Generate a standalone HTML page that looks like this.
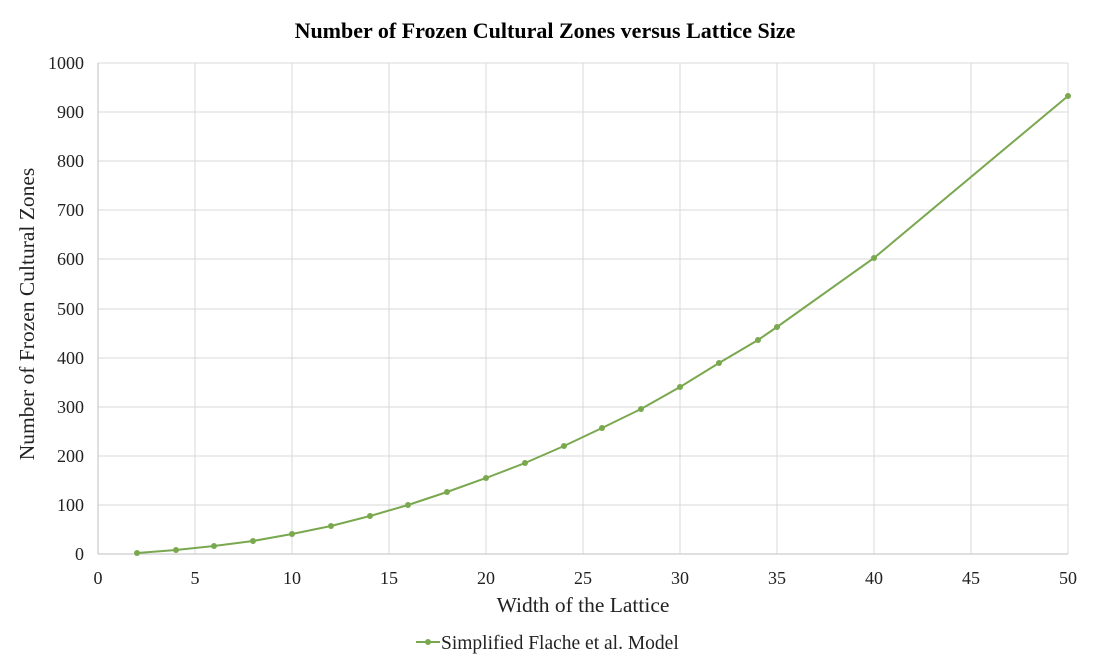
<!DOCTYPE html>
<html><head><meta charset="utf-8"><style>
html,body{margin:0;padding:0;background:#fff;}
svg{display:block;font-family:"Liberation Serif",serif;}
</style></head><body>
<svg width="1094" height="656" viewBox="0 0 1094 656" xmlns="http://www.w3.org/2000/svg">
<rect width="1094" height="656" fill="#fff"/>
<text x="545" y="38" text-anchor="middle" font-size="22" font-weight="bold" fill="#000">Number of Frozen Cultural Zones versus Lattice Size</text>
<g stroke="#d9d9d9" stroke-width="1">
<line x1="98" y1="63" x2="1068" y2="63"/><line x1="98" y1="112" x2="1068" y2="112"/>
<line x1="98" y1="161" x2="1068" y2="161"/><line x1="98" y1="210" x2="1068" y2="210"/>
<line x1="98" y1="259" x2="1068" y2="259"/><line x1="98" y1="309" x2="1068" y2="309"/>
<line x1="98" y1="358" x2="1068" y2="358"/><line x1="98" y1="407" x2="1068" y2="407"/>
<line x1="98" y1="456" x2="1068" y2="456"/><line x1="98" y1="505" x2="1068" y2="505"/>
<line x1="195" y1="63" x2="195" y2="554"/><line x1="292" y1="63" x2="292" y2="554"/>
<line x1="389" y1="63" x2="389" y2="554"/><line x1="486" y1="63" x2="486" y2="554"/>
<line x1="583" y1="63" x2="583" y2="554"/><line x1="680" y1="63" x2="680" y2="554"/>
<line x1="777" y1="63" x2="777" y2="554"/><line x1="874" y1="63" x2="874" y2="554"/>
<line x1="971" y1="63" x2="971" y2="554"/><line x1="1068" y1="63" x2="1068" y2="554"/>
</g>
<line x1="98" y1="554" x2="1068" y2="554" stroke="#bfbfbf"/>
<line x1="98" y1="63" x2="98" y2="554" stroke="#bfbfbf"/>
<g font-size="18" fill="#222" text-anchor="end">
<text x="84" y="560">0</text><text x="84" y="511">100</text><text x="84" y="462">200</text>
<text x="84" y="413">300</text><text x="84" y="364">400</text><text x="84" y="315">500</text>
<text x="84" y="265">600</text><text x="84" y="216">700</text><text x="84" y="167">800</text>
<text x="84" y="118">900</text><text x="84" y="69">1000</text>
</g>
<g font-size="18" fill="#222" text-anchor="middle">
<text x="98" y="584">0</text><text x="195" y="584">5</text><text x="292" y="584">10</text>
<text x="389" y="584">15</text><text x="486" y="584">20</text><text x="583" y="584">25</text>
<text x="680" y="584">30</text><text x="777" y="584">35</text><text x="874" y="584">40</text>
<text x="971" y="584">45</text><text x="1068" y="584">50</text>
</g>
<text x="583" y="612" text-anchor="middle" font-size="21.5" fill="#222">Width of the Lattice</text>
<text transform="translate(34,314) rotate(-90)" text-anchor="middle" font-size="21.5" fill="#222">Number of Frozen Cultural Zones</text>
<polyline fill="none" stroke="#7aa84f" stroke-width="2" points="137,553 176,550 214,546 253,541 292,534 331,526 370,516 408,505 447,492 486,478 525,463 564,446 602,428 641,409 680,387 719,363 758,340 777,327 874,258 1068,96"/>
<g fill="#7aa84f">
<circle cx="137" cy="553" r="3"/><circle cx="176" cy="550" r="3"/><circle cx="214" cy="546" r="3"/>
<circle cx="253" cy="541" r="3"/><circle cx="292" cy="534" r="3"/><circle cx="331" cy="526" r="3"/>
<circle cx="370" cy="516" r="3"/><circle cx="408" cy="505" r="3"/><circle cx="447" cy="492" r="3"/>
<circle cx="486" cy="478" r="3"/><circle cx="525" cy="463" r="3"/><circle cx="564" cy="446" r="3"/>
<circle cx="602" cy="428" r="3"/><circle cx="641" cy="409" r="3"/><circle cx="680" cy="387" r="3"/>
<circle cx="719" cy="363" r="3"/><circle cx="758" cy="340" r="3"/><circle cx="777" cy="327" r="3"/>
<circle cx="874" cy="258" r="3"/><circle cx="1068" cy="96" r="3"/>
</g>
<line x1="416" y1="642" x2="440" y2="642" stroke="#7aa84f" stroke-width="2"/>
<circle cx="428" cy="642" r="3" fill="#7aa84f"/>
<text x="441" y="649" font-size="19.5" fill="#222">Simplified Flache et al. Model</text>
</svg>
</body></html>
